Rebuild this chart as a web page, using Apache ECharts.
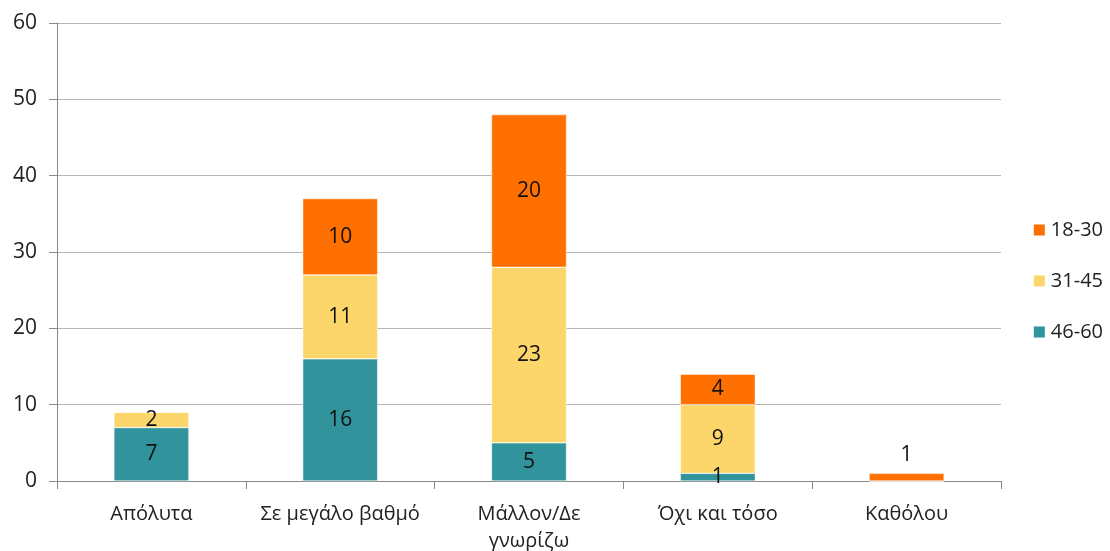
<!DOCTYPE html>
<html>
<head>
<meta charset="utf-8">
<script src="https://cdn.jsdelivr.net/npm/echarts@6/dist/echarts.min.js"></script>
<style>
  html, body { margin: 0; padding: 0; background: #fff; }
  #chart { width: 1110px; height: 551px; }
</style>
</head>
<body>
<div id="chart"></div>
<script>
  // data
  let categories = ['Απόλυτα', 'Σε μεγάλο βαθμό', 'Μάλλον/Δε\nγνωρίζω', 'Όχι και τόσο', 'Καθόλου'];
  let age46_60 = [7, 16, 5, 1, 0];
  let age31_45 = [2, 11, 23, 9, 0];
  let age18_30 = [0, 10, 20, 4, 1];
  let yTicks = [0, 10, 20, 30, 40, 50, 60];

  let font = '"Open Sans", "Noto Sans", sans-serif';
  let chart = echarts.init(document.getElementById('chart'));

  let labelFmt = p => (p.value === 0 ? '' : p.value);
  let barLabel = {
    show: true,
    position: 'inside',
    color: '#111',
    fontFamily: font,
    fontSize: 21,
    formatter: labelFmt
  };

  function series(name, data, color) {
    return {
      name: name,
      type: 'bar',
      stack: 'total',
      barWidth: 75,
      itemStyle: { color: color, borderColor: '#fff', borderWidth: 0.5 },
      label: barLabel,
      labelLayout: { hideOverlap: false },
      data: data.map(v => {
        // tiny single bar (Καθόλου) has its label sitting above it
        if (name === '18-30' && v === 1) {
          return { value: v, label: { position: 'top', distance: 8 } };
        }
        return v;
      })
    };
  }

  let option = {
    animation: false,
    grid: { left: 57, right: 109, top: 23, bottom: 70, containLabel: false, outerBoundsMode: 'none' },
    legend: {
      orient: 'vertical',
      right: 2,
      top: 213,
      itemWidth: 13,
      itemHeight: 13,
      itemGap: 27,
      icon: 'rect',
      textStyle: { fontFamily: font, fontSize: 20, color: '#222', lineHeight: 24 },
      data: ['18-30', '31-45', '46-60']
    },
    xAxis: {
      type: 'category',
      data: categories,
      axisLine: { lineStyle: { color: '#888' } },
      axisTick: { show: true, interval: 0, length: 8, lineStyle: { color: '#888' } },
      axisLabel: {
        interval: 0,
        hideOverlap: false,
        color: '#222',
        fontFamily: font,
        fontSize: 20,
        margin: 20,
        lineHeight: 27
      }
    },
    yAxis: {
      type: 'value',
      min: yTicks[0],
      max: yTicks[yTicks.length - 1],
      interval: 10,
      axisLine: { show: true, lineStyle: { color: '#888' } },
      axisTick: { show: true, length: 8, lineStyle: { color: '#888' } },
      splitLine: { lineStyle: { color: '#b5b5b5' } },
      axisLabel: {
        color: '#222',
        fontFamily: font,
        fontSize: 21,
        margin: 20
      }
    },
    series: [
      series('46-60', age46_60, '#31939b'),
      series('31-45', age31_45, '#fcd66b'),
      series('18-30', age18_30, '#ff7000')
    ]
  };

  chart.setOption(option);
</script>
</body>
</html>
